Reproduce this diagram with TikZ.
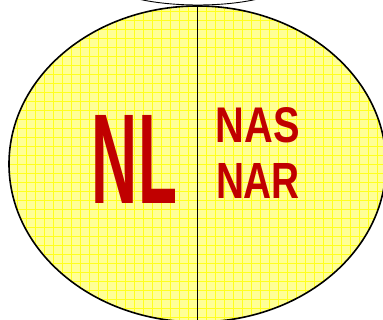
\documentclass[tikz,border=0pt]{standalone}
\usepackage{fontspec}
\setmainfont{Liberation Sans}
\usetikzlibrary{shapes.geometric}
\definecolor{darkred}{RGB}{192,0,0}
\definecolor{paleyellow}{RGB}{255,255,150}
\definecolor{gridyellow}{RGB}{255,255,30}

\tikzset{
  label text/.style={inner sep=0pt, text=darkred, font=\bfseries},
  grid fill/.style={path picture={
      \fill[paleyellow] (path picture bounding box.south west) rectangle (path picture bounding box.north east);
      \draw[gridyellow, line width=0.8pt, step=9pt] (path picture bounding box.south west) grid (path picture bounding box.north east);
    }}
}

\begin{document}
\begin{tikzpicture}[x=1pt, y=-1pt]
    \useasboundingbox (0,0) rectangle (383,320);
    \node[shape=ellipse, draw=black, line width=0.9pt, minimum width=184pt, minimum height=50pt, inner sep=0pt] (Top) at (198,-20) {};
    \node[shape=ellipse, draw=black, line width=1.6pt, grid fill, minimum width=377pt, minimum height=316pt, inner sep=0pt] (Cell) at (197.5,164) {};
    \draw[line width=1pt] (Cell.north) -- (Cell.south);
    \node[label text] (NL) at (134.5,159) {\resizebox{85pt}{88pt}{NL}};
    \node[label text] (NAS) at (258,125.5) {\resizebox{84pt}{35pt}{NAS}};
    \node[label text] (NAR) at (258,180.5) {\resizebox{84pt}{35pt}{NAR}};
  \end{tikzpicture}
\end{document}
